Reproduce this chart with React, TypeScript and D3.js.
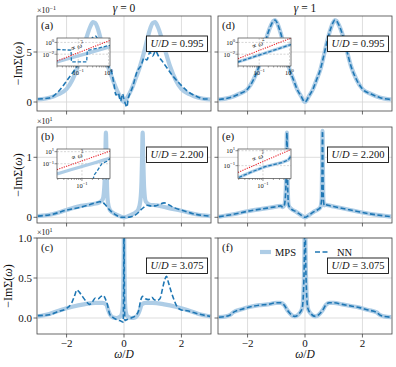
import React from "react";
import * as d3 from "d3";

const W = 396;
const H = 367;
const FONT = "'Liberation Serif', 'DejaVu Serif', serif";
const LIGHT = "#aecde6";
const DARK = "#1f77b4";
const SPINE = "#444";
const GRID = "#d4d4d4";

// ---------- main panels (values in units of the offset, e.g. x10^-1) ----------
// (a) gamma = 0, U/D = 0.995
const mpsA_w = [-3, -2.6, -2.3, -2.0, -1.8, -1.6, -1.45, -1.3, -1.18, -1.08, -1.0, -0.92, -0.82, -0.7, -0.55, -0.4, -0.25, -0.12, 0, 0.12, 0.25, 0.4, 0.55, 0.7, 0.82, 0.92, 1.0, 1.08, 1.18, 1.3, 1.45, 1.6, 1.8, 2.0, 2.3, 2.6, 3];
const mpsA = [0.25, 0.42, 0.75, 1.3, 2.2, 3.6, 5.0, 6.5, 7.5, 8.0, 7.9, 7.4, 6.4, 5.0, 3.5, 2.3, 1.2, 0.5, 0.0, 0.5, 1.2, 2.3, 3.5, 5.0, 6.4, 7.4, 7.9, 8.0, 7.5, 6.5, 5.0, 3.6, 2.2, 1.3, 0.75, 0.42, 0.25];
const nnA_w = [-3, -2.6, -2.3, -2.0, -1.7, -1.4, -1.2, -1.0, -0.85, -0.7, -0.55, -0.45, -0.35, -0.28, -0.2, -0.12, -0.05, 0, 0.05, 0.1, 0.15, 0.2, 0.3, 0.45, 0.6, 0.7, 0.8, 0.9, 1.0, 1.1, 1.2, 1.35, 1.5, 1.7, 1.95, 2.2, 2.5, 2.8, 3];
const nnA = [0.3, 0.4, 1.0, 2.1, 3.3, 4.8, 6.0, 6.6, 5.8, 4.5, 3.6, 3.2, 1.8, 0.7, 0.9, 0.1, 0.8, 0.3, -0.2, -0.5, 0.4, 0.8, 1.5, 3.0, 3.7, 4.4, 4.2, 5.0, 4.6, 5.1, 4.6, 4.0, 3.4, 2.6, 1.8, 1.1, 0.6, 0.3, 0.3];

// (d) gamma = 1, U/D = 0.995
const mpsD_w = [-3, -2.6, -2.3, -2.0, -1.8, -1.6, -1.45, -1.3, -1.18, -1.1, -1.04, -0.97, -0.88, -0.78, -0.66, -0.53, -0.4, -0.28, -0.14, 0, 0.14, 0.28, 0.4, 0.53, 0.66, 0.78, 0.88, 0.97, 1.04, 1.1, 1.18, 1.3, 1.45, 1.6, 1.8, 2.0, 2.3, 2.6, 3];
const mpsD = [0.25, 0.45, 0.8, 1.3, 2.2, 3.6, 5.2, 6.8, 7.7, 8.1, 8.2, 7.9, 7.2, 6.2, 4.7, 3.2, 2.2, 1.3, 0.6, 0.0, 0.6, 1.3, 2.2, 3.2, 4.7, 6.2, 7.2, 7.9, 8.2, 8.1, 7.7, 6.8, 5.2, 3.6, 2.2, 1.3, 0.8, 0.45, 0.25];
const nnD = mpsD;

// (b) gamma = 0, U/D = 2.200  (x10^1)
const mpsB_w = [-3, -2.5, -2.0, -1.5, -1.1, -0.85, -0.74, -0.68, -0.65, -0.63, -0.61, -0.59, -0.56, -0.5, -0.4, -0.25, 0, 0.25, 0.4, 0.5, 0.57, 0.61, 0.63, 0.65, 0.67, 0.7, 0.76, 0.9, 1.15, 1.5, 2.0, 2.5, 3];
const mpsB = [0.02, 0.05, 0.12, 0.19, 0.22, 0.25, 0.3, 0.55, 1.0, 1.41, 1.0, 0.5, 0.25, 0.13, 0.08, 0.04, 0.0, 0.04, 0.08, 0.13, 0.28, 0.6, 1.0, 1.41, 1.0, 0.5, 0.26, 0.21, 0.2, 0.16, 0.11, 0.05, 0.02];
const nnB_w = [-3, -2.5, -2.0, -1.5, -1.2, -1.0, -0.85, -0.75, -0.65, -0.55, -0.45, -0.35, -0.25, -0.1, 0, 0.1, 0.25, 0.4, 0.5, 0.6, 0.7, 0.8, 0.95, 1.1, 1.25, 1.4, 1.55, 1.75, 2.0, 2.4, 3];
const nnB = [0.02, 0.05, 0.12, 0.17, 0.21, 0.24, 0.26, 0.25, 0.21, 0.15, 0.1, 0.06, 0.03, 0.0, 0.0, 0.0, 0.01, 0.04, 0.08, 0.13, 0.17, 0.2, 0.19, 0.19, 0.22, 0.24, 0.21, 0.16, 0.12, 0.06, 0.02];

// (e) gamma = 1, U/D = 2.200  (x10^1)
const mpsE_w = [-3, -2.5, -2.0, -1.5, -1.1, -0.85, -0.77, -0.72, -0.67, -0.645, -0.63, -0.615, -0.6, -0.57, -0.5, -0.3, -0.15, 0, 0.15, 0.3, 0.45, 0.53, 0.58, 0.595, 0.61, 0.625, 0.64, 0.67, 0.72, 0.8, 1.0, 1.5, 2.0, 2.5, 3];
const mpsE = [0.01, 0.05, 0.1, 0.14, 0.17, 0.19, 0.17, 0.2, 0.45, 1.0, 1.41, 1.0, 0.45, 0.2, 0.15, 0.09, 0.04, 0.0, 0.04, 0.09, 0.13, 0.16, 0.3, 0.8, 1.44, 0.8, 0.3, 0.2, 0.21, 0.2, 0.18, 0.13, 0.08, 0.04, 0.01];
const nnE = mpsE;

// (c) gamma = 0, U/D = 3.075  (x10^1)
const mpsC_w = [-3, -2.6, -2.2, -1.8, -1.4, -1.0, -0.75, -0.62, -0.55, -0.48, -0.4, -0.25, -0.12, -0.06, -0.03, -0.01, 0, 0.01, 0.03, 0.06, 0.12, 0.25, 0.4, 0.48, 0.55, 0.62, 0.75, 1.0, 1.4, 1.8, 2.2, 2.6, 3];
const mpsC = [0.02, 0.05, 0.1, 0.14, 0.17, 0.19, 0.19, 0.17, 0.1, 0.04, 0.01, 0.0, 0.02, 0.08, 0.25, 0.8, 1.3, 0.8, 0.25, 0.08, 0.02, 0.0, 0.01, 0.04, 0.1, 0.17, 0.19, 0.19, 0.17, 0.14, 0.1, 0.05, 0.02];
const nnC_w = [-3, -2.6, -2.3, -2.0, -1.82, -1.7, -1.65, -1.55, -1.45, -1.3, -1.2, -1.1, -1.0, -0.9, -0.8, -0.72, -0.65, -0.58, -0.5, -0.4, -0.25, -0.1, -0.03, -0.01, 0, 0.01, 0.03, 0.1, 0.25, 0.4, 0.5, 0.58, 0.65, 0.75, 0.85, 0.97, 1.05, 1.15, 1.25, 1.35, 1.42, 1.48, 1.55, 1.65, 1.75, 1.85, 2.0, 2.2, 2.6, 3];
const nnC = [0.03, 0.04, 0.08, 0.12, 0.19, 0.3, 0.35, 0.32, 0.27, 0.2, 0.17, 0.2, 0.25, 0.24, 0.27, 0.28, 0.24, 0.17, 0.05, 0.01, -0.02, -0.04, -0.05, 0.5, 1.3, 0.5, -0.03, -0.02, 0.0, 0.03, 0.08, 0.22, 0.27, 0.24, 0.23, 0.26, 0.23, 0.22, 0.24, 0.38, 0.48, 0.52, 0.44, 0.32, 0.22, 0.14, 0.1, 0.09, 0.05, 0.02];

// (f) gamma = 1, U/D = 3.075  (x10^1)
const mpsF_w = [-3, -2.75, -2.6, -2.5, -2.2, -1.9, -1.6, -1.3, -1.0, -0.85, -0.72, -0.62, -0.53, -0.36, -0.19, -0.1, -0.05, -0.02, 0, 0.02, 0.05, 0.1, 0.19, 0.36, 0.53, 0.62, 0.72, 0.85, 1.0, 1.3, 1.6, 1.9, 2.2, 2.5, 2.6, 2.75, 3];
const mpsF = [0.01, 0.02, 0.04, 0.07, 0.11, 0.14, 0.16, 0.17, 0.19, 0.19, 0.16, 0.1, 0.06, 0.02, 0.06, 0.12, 0.35, 0.8, 1.4, 0.8, 0.35, 0.12, 0.06, 0.02, 0.06, 0.1, 0.16, 0.19, 0.19, 0.17, 0.15, 0.13, 0.1, 0.07, 0.04, 0.02, 0.01];
const nnF = mpsF;

// ---------- insets (log-log) ----------
const insMpsA_w = [0.02, 0.05, 0.1, 0.2, 0.5, 1.12];
const insMpsA = [5e-4, 1.9e-3, 5.2e-3, 0.014, 0.054, 0.18];
const insNnA_w = [0.02, 0.035, 0.058, 0.06, 0.19, 0.2, 0.23, 0.5, 1.12];
const insNnA = [0.063, 0.055, 0.048, 5e-4, 5e-4, 0.04, 0.048, 0.12, 0.33];
const insRefA_w = [0.02, 1.12];
const insRefA = [7.1e-4, 2.23];

const insMpsD_w = [0.02, 0.05, 0.1, 0.2, 0.5, 1.12];
const insMpsD = [4.7e-4, 2.2e-3, 7.2e-3, 0.023, 0.11, 0.44];
const insRefD_w = [0.02, 1.12];
const insRefD = [1.74e-3, 5.46];

const insMpsB_w = [0.019, 0.05, 0.1, 0.2, 0.4, 0.646];
const insMpsB = [2.1e-3, 0.011, 0.035, 0.11, 0.36, 0.85];
const insNnB_w = [0.209, 0.224, 0.275, 0.38, 0.525, 0.646];
const insNnB = [2e-4, 1.3e-3, 6.3e-3, 0.11, 0.26, 0.71];
const insRefB_w = [0.019, 0.646];
const insRefB = [0.0107, 12.4];

const insMpsE_w = [0.02, 0.048, 0.115, 0.35, 0.54, 0.646];
const insMpsE = [2.6e-3, 0.015, 0.072, 0.26, 0.59, 2.1];
const insRefE_w = [0.019, 0.646];
const insRefE = [0.0126, 14.6];

// ---------- axes ----------
const xTicks = [-2, 0, 2];
const xTickLabels = ["\u22122", "0", "2"];
const cols = [
  { x0: 37, x1: 211, title: "0" },
  { x0: 218, x1: 392, title: "1" },
];
const rows = [
  { y0: 16, y1: 111, yDom: [-0.9, 8.6], ticks: [0, 5], labels: ["0", "5"], exp: "\u22121", u: "0.995", labelX: 19, ih: 28 },
  { y0: 127, y1: 223, yDom: [-0.095, 1.505], ticks: [0, 1], labels: ["0", "1"], exp: "1", u: "2.200", labelX: 19, ih: 29.5 },
  { y0: 238, y1: 334, yDom: [-0.2, 1.0], ticks: [0, 0.5, 1.0], labels: ["0.0", "0.5", "1.0"], exp: "1", u: "3.075", labelX: 9, ih: 0 },
];

const panels = [
  { id: "a", r: 0, c: 0, mps: [mpsA_w, mpsA], nn: [nnA_w, nnA],
    inset: { xDom: [-1.7, 0.05], yDom: [-4.0, 0.75], xT: [-1, 0], yT: [0, -2], mps: [insMpsA_w, insMpsA], nn: [insNnA_w, insNnA], ref: [insRefA_w, insRefA] } },
  { id: "d", r: 0, c: 1, mps: [mpsD_w, mpsD], nn: [mpsD_w, nnD],
    inset: { xDom: [-1.7, 0.05], yDom: [-4.0, 0.75], xT: [-1, 0], yT: [0, -2], mps: [insMpsD_w, insMpsD], nn: [insMpsD_w, insMpsD], ref: [insRefD_w, insRefD] } },
  { id: "b", r: 1, c: 0, mps: [mpsB_w, mpsB], nn: [nnB_w, nnB],
    inset: { xDom: [-1.72, -0.19], yDom: [-3.44, 1.44], xT: [-1], yT: [1, -1], mps: [insMpsB_w, insMpsB], nn: [insNnB_w, insNnB], ref: [insRefB_w, insRefB] } },
  { id: "e", r: 1, c: 1, mps: [mpsE_w, mpsE], nn: [mpsE_w, nnE],
    inset: { xDom: [-1.72, -0.19], yDom: [-2.72, 1.23], xT: [-1], yT: [1, -1], mps: [insMpsE_w, insMpsE], nn: [insMpsE_w, insMpsE], ref: [insRefE_w, insRefE] } },
  { id: "c", r: 2, c: 0, mps: [mpsC_w, mpsC], nn: [nnC_w, nnC], inset: null },
  { id: "f", r: 2, c: 1, mps: [mpsF_w, mpsF], nn: [mpsF_w, nnF], inset: null },
];

function Pow({ x, y, exp, size, anchor }) {
  return (
    <text x={x} y={y} fontSize={size} textAnchor={anchor} fontFamily={FONT} fill="#111">
      10<tspan dy={-size * 0.42} fontSize={size * 0.72}>{exp}</tspan>
    </text>
  );
}

function Inset({ p, x0, y0, ih }) {
  const ins = p.inset;
  const ix = x0 + 20;
  const iy = y0 + 22;
  const iw = 53;
  const sx = d3.scaleLog().domain([10 ** ins.xDom[0], 10 ** ins.xDom[1]]).range([ix, ix + iw]);
  const sy = d3.scaleLog().domain([10 ** ins.yDom[0], 10 ** ins.yDom[1]]).range([iy + ih, iy]);
  const mk = ([ws, vs]) =>
    d3.line().x((_, i) => sx(ws[i])).y((v) => sy(v))(vs);
  const clip = `ins-${p.id}`;
  // minor ticks on the x axis
  const minors = [];
  for (let dec = -3; dec <= 0; dec++) {
    for (let m = 2; m <= 9; m++) {
      const v = m * 10 ** dec;
      if (Math.log10(v) > ins.xDom[0] && Math.log10(v) < ins.xDom[1]) minors.push(v);
    }
  }
  // label along the reference line
  const [rw, rv] = ins.ref;
  const ax = sx(rw[0]), ay = sy(rv[0]), bx = sx(rw[1]), by = sy(rv[1]);
  const ang = (Math.atan2(by - ay, bx - ax) * 180) / Math.PI;
  const t = 0.43;
  const len = Math.hypot(bx - ax, by - ay);
  const nx = (by - ay) / len, ny = -(bx - ax) / len;
  const tx = ax + t * (bx - ax) + nx * 5.5;
  const ty = ay + t * (by - ay) + ny * 5.5;
  return (
    <g>
      <defs>
        <clipPath id={clip}>
          <rect x={ix} y={iy} width={iw} height={ih} />
        </clipPath>
      </defs>
      <rect x={ix} y={iy} width={iw} height={ih} fill="white" />
      <g clipPath={`url(#${clip})`}>
        {ins.xT.map((e) => (
          <line key={"gx" + e} x1={sx(10 ** e)} x2={sx(10 ** e)} y1={iy} y2={iy + ih} stroke="#bbb" strokeWidth={0.6} strokeDasharray="2,1.5" />
        ))}
        {ins.yT.map((e) => (
          <line key={"gy" + e} x1={ix} x2={ix + iw} y1={sy(10 ** e)} y2={sy(10 ** e)} stroke="#bbb" strokeWidth={0.6} strokeDasharray="2,1.5" />
        ))}
        <path d={mk(ins.mps)} fill="none" stroke={LIGHT} strokeWidth={3.2} />
        <path d={mk(ins.nn)} fill="none" stroke={DARK} strokeWidth={1.3} strokeDasharray="3.5,1.8" />
        <path d={mk(ins.ref)} fill="none" stroke="#e8202a" strokeWidth={1.1} strokeDasharray="1.2,1.2" />
        <text x={tx} y={ty} fontSize={7} fontFamily={FONT} textAnchor="middle" dominantBaseline="middle" transform={`rotate(${ang},${tx},${ty})`} fill="#111">
          {"\u221d "}<tspan fontStyle="italic">{"\u03c9"}</tspan><tspan dy={-3} fontSize={5}>2</tspan>
        </text>
      </g>
      <rect x={ix} y={iy} width={iw} height={ih} fill="none" stroke={SPINE} strokeWidth={0.7} />
      {minors.map((v) => (
        <line key={"mn" + v} x1={sx(v)} x2={sx(v)} y1={iy + ih} y2={iy + ih + 1.5} stroke={SPINE} strokeWidth={0.5} />
      ))}
      {ins.xT.map((e) => (
        <g key={"xt" + e}>
          <line x1={sx(10 ** e)} x2={sx(10 ** e)} y1={iy + ih} y2={iy + ih + 2.5} stroke={SPINE} strokeWidth={0.6} />
          <Pow x={sx(10 ** e)} y={iy + ih + 9} exp={e === 0 ? "0" : "\u2212" + Math.abs(e)} size={6.5} anchor="middle" />
        </g>
      ))}
      {ins.yT.map((e) => (
        <g key={"yt" + e}>
          <line x1={ix - 2.5} x2={ix} y1={sy(10 ** e)} y2={sy(10 ** e)} stroke={SPINE} strokeWidth={0.6} />
          <Pow x={ix - 3} y={sy(10 ** e) + 2.5} exp={e >= 0 ? String(e) : "\u2212" + Math.abs(e)} size={6.5} anchor="end" />
        </g>
      ))}
    </g>
  );
}

function Panel({ p }) {
  const col = cols[p.c];
  const row = rows[p.r];
  const { x0, x1 } = col;
  const { y0, y1 } = row;
  const x = d3.scaleLinear().domain([-3.03, 3.03]).range([x0, x1]);
  const y = d3.scaleLinear().domain(row.yDom).range([y1, y0]);
  const mk = ([ws, vs]) =>
    d3.line().x((_, i) => x(ws[i])).y((v) => y(v)).curve(d3.curveMonotoneX)(vs);
  const clip = `clip-${p.id}`;
  const bw = 61;
  const bh = 15.5;
  const bx = x1 - 3.5 - bw;
  const by = y0 + 20;
  return (
    <g>
      <defs>
        <clipPath id={clip}>
          <rect x={x0} y={y0} width={x1 - x0} height={y1 - y0} />
        </clipPath>
      </defs>
      {xTicks.map((t) => (
        <line key={"gx" + t} x1={x(t)} x2={x(t)} y1={y0} y2={y1} stroke={GRID} strokeWidth={0.8} />
      ))}
      {row.ticks.map((t) => (
        <line key={"gy" + t} x1={x0} x2={x1} y1={y(t)} y2={y(t)} stroke={GRID} strokeWidth={0.8} />
      ))}
      <g clipPath={`url(#${clip})`}>
        <path d={mk(p.mps)} fill="none" stroke={LIGHT} strokeWidth={4.2} strokeLinejoin="round" />
        <path d={mk(p.nn)} fill="none" stroke={DARK} strokeWidth={1.6} strokeDasharray="5,2.5" />
      </g>
      <rect x={x0} y={y0} width={x1 - x0} height={y1 - y0} fill="none" stroke={SPINE} strokeWidth={0.8} />
      {xTicks.map((t, i) => (
        <g key={"xt" + t}>
          <line x1={x(t)} x2={x(t)} y1={y1} y2={y1 + 3.5} stroke={SPINE} strokeWidth={0.8} />
          {p.r === 2 && (
            <text x={x(t)} y={347} fontSize={11} textAnchor="middle" fontFamily={FONT} fill="#111">{xTickLabels[i]}</text>
          )}
        </g>
      ))}
      {row.ticks.map((t, i) => (
        <g key={"yt" + t}>
          <line x1={x0 - 3.5} x2={x0} y1={y(t)} y2={y(t)} stroke={SPINE} strokeWidth={0.8} />
          {p.c === 0 && (
            <text x={x0 - 5} y={y(t) + 3.8} fontSize={11} textAnchor="end" fontFamily={FONT} fill="#111">{row.labels[i]}</text>
          )}
        </g>
      ))}
      {p.c === 0 && (
        <text x={x0} y={y0 - 3.5} fontSize={8} fontFamily={FONT} fill="#111">
          {"\u00d710"}<tspan dy={-3} fontSize={6}>{row.exp}</tspan>
        </text>
      )}
      <text x={x0 + 4} y={y0 + 13} fontSize={11} fontFamily={FONT} fill="#111">{`(${p.id})`}</text>
      <rect x={bx} y={by} width={bw} height={bh} fill="white" stroke="#111" strokeWidth={0.9} />
      <text x={bx + bw / 2} y={by + bh / 2 + 3.5} fontSize={10.5} textAnchor="middle" fontFamily={FONT} fill="#111">
        <tspan fontStyle="italic">U</tspan>/<tspan fontStyle="italic">D</tspan>{" = " + row.u}
      </text>
      {p.inset && <Inset p={p} x0={x0} y0={y0} ih={row.ih} />}
      {p.id === "f" && (
        <g>
          <line x1={x0 + 42} x2={x0 + 53} y1={252} y2={252} stroke={LIGHT} strokeWidth={4.2} />
          <text x={x0 + 57} y={255.5} fontSize={10.5} fontFamily={FONT} fill="#111">MPS</text>
          <line x1={x0 + 97} x2={x0 + 111} y1={252} y2={252} stroke={DARK} strokeWidth={1.6} strokeDasharray="5,2.5" />
          <text x={x0 + 119} y={255.5} fontSize={10.5} fontFamily={FONT} fill="#111">NN</text>
        </g>
      )}
    </g>
  );
}

export default function App() {
  return (
    <svg width={W} height={H} style={{ display: "block", position: "absolute", left: 0, top: 0, background: "white" }}>
      <rect width={W} height={H} fill="white" />
      {cols.map((c) => (
        <text key={"t" + c.title} x={(c.x0 + c.x1) / 2} y={12} fontSize={11.5} textAnchor="middle" fontFamily={FONT} fill="#111">
          <tspan fontStyle="italic">{"\u03b3"}</tspan>{" = " + c.title}
        </text>
      ))}
      {rows.map((r, i) => (
        <text key={"yl" + i} x={r.labelX} y={(r.y0 + r.y1) / 2} fontSize={12} textAnchor="middle" fontFamily={FONT} fill="#111"
          dominantBaseline="middle" transform={`rotate(-90,${r.labelX},${(r.y0 + r.y1) / 2})`}>
          {"\u2212Im\u03a3("}<tspan fontStyle="italic">{"\u03c9"}</tspan>{")"}
        </text>
      ))}
      {cols.map((c) => (
        <text key={"xl" + c.title} x={(c.x0 + c.x1) / 2} y={358} fontSize={11.5} textAnchor="middle" fontFamily={FONT} fill="#111">
          <tspan fontStyle="italic">{"\u03c9"}</tspan>/<tspan fontStyle="italic">D</tspan>
        </text>
      ))}
      {panels.map((p) => (
        <Panel key={p.id} p={p} />
      ))}
    </svg>
  );
}
